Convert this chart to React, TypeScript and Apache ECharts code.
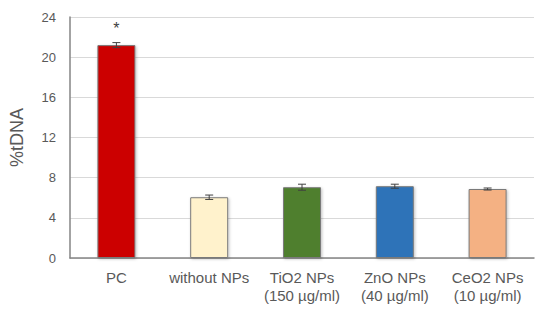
import React, { useEffect, useRef } from "react";
import * as echarts from "echarts";

const categories = ["PC", "without NPs", "TiO2 NPs\n(150 µg/ml)", "ZnO NPs\n(40 µg/ml)", "CeO2 NPs\n(10 µg/ml)"];
const values = [21.2, 6.05, 7.05, 7.15, 6.87];
const errors = [0.25, 0.22, 0.3, 0.2, 0.1];
const colors = ["#CC0000", "#FFF2CC", "#4F7F2F", "#2E73B8", "#F4B183"];
const yTicks = [0, 4, 8, 12, 16, 20, 24];
const significance = ["*", "", "", "", ""];

export default function App() {
  const ref = useRef<HTMLDivElement>(null);
  useEffect(() => {
    if (!ref.current) return;
    const chart = echarts.init(ref.current, undefined, { renderer: "svg" });
    const font = "Liberation Sans, Arial, sans-serif";
    chart.setOption({
      animation: false,
      backgroundColor: "#ffffff",
      grid: { left: 68, right: 16, top: 17, bottom: 53 },
      xAxis: {
        type: "category",
        data: categories,
        axisLine: { lineStyle: { color: "#858585", width: 1.5 } },
        axisTick: { show: false },
        axisLabel: { color: "#595959", fontSize: 15, fontFamily: font, lineHeight: 18, margin: 10, interval: 0 },
      },
      yAxis: {
        type: "value",
        min: yTicks[0],
        max: yTicks[yTicks.length - 1],
        interval: 4,
        name: "%tDNA",
        nameLocation: "middle",
        nameGap: 44,
        nameTextStyle: { color: "#595959", fontSize: 18, fontFamily: font },
        axisLine: { show: true, lineStyle: { color: "#858585", width: 1.5 } },
        axisTick: { show: false },
        axisLabel: { color: "#595959", fontSize: 13, fontFamily: font, margin: 14 },
        splitLine: { lineStyle: { color: "#D9D9D9", width: 1 } },
      },
      series: [
        {
          type: "bar",
          barWidth: 38,
          data: values.map((v, i) => ({
            value: v,
            itemStyle: {
              color: colors[i],
              borderColor: "#7a7a7a",
              borderWidth: 1,
              shadowColor: "rgba(0,0,0,0.25)",
              shadowBlur: 3,
              shadowOffsetX: 1,
              shadowOffsetY: 1,
            },
          })),
          label: {
            show: true,
            position: "top",
            distance: 9,
            formatter: (p: any) => significance[p.dataIndex],
            color: "#404040",
            fontSize: 16,
            fontFamily: font,
          },
          z: 2,
        },
        {
          type: "custom",
          z: 5,
          data: values.map((v, i) => [i, v - errors[i], v + errors[i]]),
          renderItem: (params: any, api: any) => {
            const x = api.value(0);
            const lo = api.coord([x, api.value(1)]);
            const hi = api.coord([x, api.value(2)]);
            const cw = 4;
            const style = { stroke: "#404040", lineWidth: 1 };
            return {
              type: "group",
              children: [
                { type: "line", shape: { x1: lo[0], y1: lo[1], x2: hi[0], y2: hi[1] }, style },
                { type: "line", shape: { x1: hi[0] - cw, y1: hi[1], x2: hi[0] + cw, y2: hi[1] }, style },
                { type: "line", shape: { x1: lo[0] - cw, y1: lo[1], x2: lo[0] + cw, y2: lo[1] }, style },
              ],
            };
          },
        },
      ],
    });
    return () => chart.dispose();
  }, []);
  return <div ref={ref} style={{ position: "absolute", left: 0, top: 0, width: 550, height: 311 }} />;
}
